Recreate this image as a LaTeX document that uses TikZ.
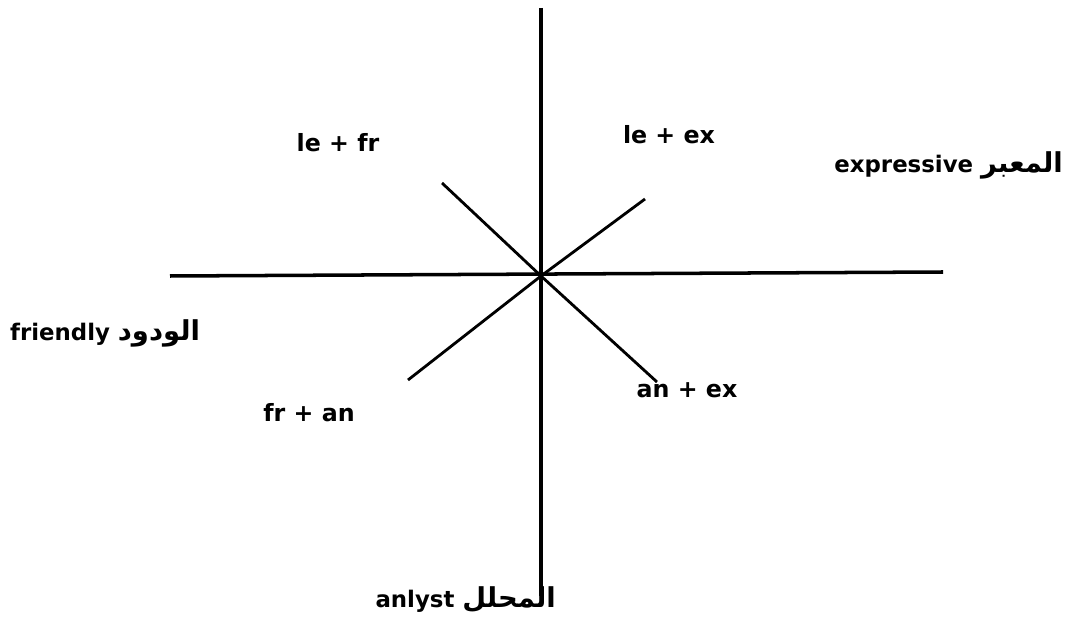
\documentclass[tikz,border=0pt]{standalone}
\usepackage{fontspec}
\setmainfont{DejaVu Sans}
\newfontfamily\arabicfont[Script=Arabic,Scale=1.2]{DejaVu Sans}
\TeXXeTstate=1
\usetikzlibrary{positioning}
\tikzset{
  axisline/.style={line width=2pt, draw=black},
  diagline/.style={line width=1.6pt, draw=black},
  quadlabel/.style={font=\fontsize{13.5}{15}\selectfont\bfseries, inner sep=1pt},
  typelabel/.style={font=\fontsize{13}{15}\selectfont\bfseries, inner sep=1pt}
}

\begin{document}
\begin{tikzpicture}[x=1cm,y=1cm]
  \useasboundingbox (0,0) rectangle (21.42,12.38);

  % axes
  \coordinate (ctr) at (10.82,6.86);
  \coordinate (top) at (10.82,12.22);
  \coordinate (bot) at (10.82,0.46);
  \coordinate (lft) at (3.40,6.86);
  \coordinate (rgt) at (18.86,6.94);
  \draw[axisline] (top) -- (bot);
  \draw[axisline] (lft) -- (rgt);

  % diagonals
  \coordinate (nw) at (8.84,8.72);
  \coordinate (ne) at (12.90,8.40);
  \coordinate (sw) at (8.16,4.78);
  \coordinate (se) at (13.14,4.74);
  \draw[diagline] (nw) -- (ctr);
  \draw[diagline] (ne) -- (ctr);
  \draw[diagline] (sw) -- (ctr);
  \draw[diagline] (se) -- (ctr);

  % quadrant labels
  \node[quadlabel] (lefr) at (6.76,9.52) {le + fr};
  \node[quadlabel] (leex) at (13.38,9.68) {le + ex};
  \node[quadlabel] (fran) at (6.18,4.12) {fr + an};
  \node[quadlabel] (anex) at (13.74,4.58) {an + ex};

  % type labels
  \node[typelabel, anchor=east] (expr) at (21.30,9.08)
    {expressive {\arabicfont\beginR المعبر\endR}};
  \node[typelabel, anchor=west] (frnd) at (0.16,5.72)
    {friendly {\arabicfont\beginR الودود\endR}};
  \node[typelabel, anchor=east] (anly) at (11.16,0.38)
    {anlyst {\arabicfont\beginR المحلل\endR}};
\end{tikzpicture}
\end{document}
